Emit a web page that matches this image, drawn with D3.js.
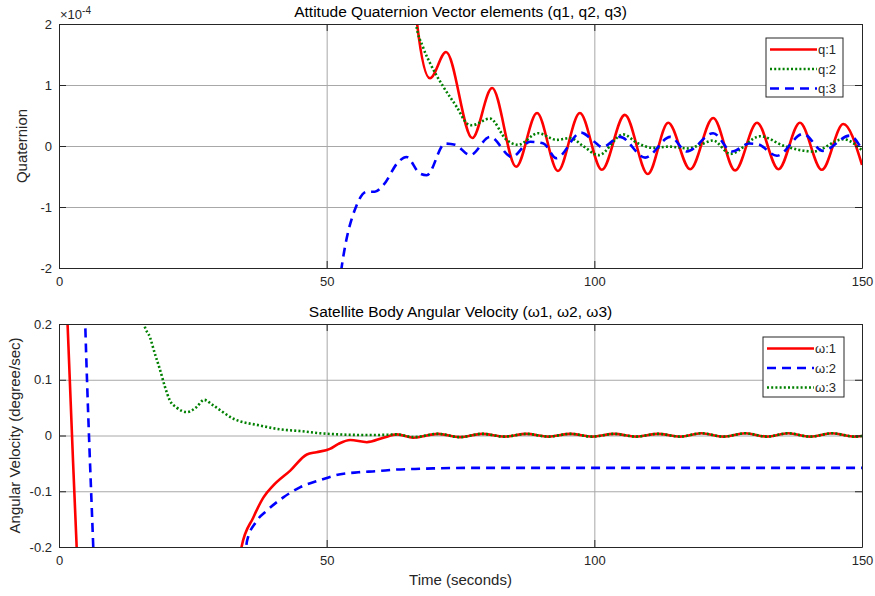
<!DOCTYPE html>
<html>
<head>
<meta charset="utf-8">
<script src="https://cdn.jsdelivr.net/npm/d3@7/dist/d3.min.js"></script>
<style>
body{margin:0;background:#fff}
svg{font-family:"Liberation Sans",Arial,sans-serif}
</style>
</head>
<body>
<svg id="svg" width="875" height="596"></svg>
<script>
// quaternion elements, in units of 1e-4, [time, value]
var q1=[[66.2,2.6],[66.9,2.0],[69.3,1.11],[72.3,1.54],[77.2,0.13],[80.9,0.95],[85.4,-0.34],[89.3,0.54],[93.2,-0.41],[97.3,0.54],
  [101.4,-0.39],[105.7,0.51],[110,-0.46],[113.8,0.38],[117.9,-0.38],[122.2,0.46],[126.3,-0.4],[130.4,0.38],[134.4,-0.38],
  [138.4,0.38],[142.5,-0.39],[146.5,0.36],[150,-0.31]];
var q2=[[66.0,2.5],[66.7,2.0],[68.0,1.62],[69.3,1.36],[71.8,0.97],[74.3,0.64],[76.2,0.37],[77.1,0.34],[80.5,0.45],[83.6,0.1],
  [85.8,0.02],[89.5,0.21],[93,0.1],[95.5,0.13],[97.9,0.0],[100.8,-0.15],[105.4,0.19],[108,0.05],[111,-0.03],[114,-0.01],
  [117.5,-0.04],[120,0.03],[122.2,0.09],[125.4,-0.13],[131,0.16],[135.5,0],[140.9,-0.09],[146.5,0.11],[150,-0.07]];
var q3=[[52.3,-2.3],[53,-1.87],[55.6,-0.97],[57.5,-0.75],[59,-0.75],[60.6,-0.64],[63.4,-0.26],[64.9,-0.18],[67.4,-0.45],
  [68.7,-0.48],[72.1,0.04],[74,0.02],[76.8,-0.15],[80.5,0.15],[84.6,-0.18],[88,0.07],[90.5,0.04],[92.9,-0.2],[97.5,0.22],
  [100,0.07],[101.5,-0.02],[104.8,0.15],[109.5,-0.19],[114.2,0.15],[117.3,-0.09],[122.2,0.21],[125.7,-0.09],[129,0.04],
  [130.5,0.03],[134.1,-0.16],[139,0.2],[142.7,-0.08],[147.7,0.17],[150,-0.06]];

// body angular velocity, degree/sec, [time, value]
var w1=[[1.2,0.32],[1.6,0.2],[3.3,-0.2],[3.7,-0.3],[33.5,-0.3],[34.1,-0.2],[36.3,-0.147],[38.2,-0.111],[40,-0.09],[43.2,-0.063],
  [46.3,-0.034],[48.1,-0.03],[50.6,-0.024],[52.2,-0.015],[54.4,-0.008],[57.5,-0.012],[60.6,-0.004],[63.1,0.002],[66.2,-0.004],
  [70.8,0.003],[74.9,-0.003],[79,0.003],[83.2,-0.002],[87.3,0.003],[91.4,-0.002],[95.5,0.003],[99.6,-0.002],[103.7,0.003],
  [107.8,-0.002],[111.9,0.003],[116,-0.002],[120,0.004],[124.1,-0.002],[128.2,0.004],[132.2,-0.002],[136.2,0.004],
  [140.3,-0.002],[144.4,0.004],[148.7,-0.002],[150,-0.001]];
var w2=[[4.6,0.3],[4.9,0.2],[6.4,-0.2],[6.8,-0.3],[34.3,-0.3],[35.1,-0.19],[36.8,-0.155],[38.8,-0.135],[41.9,-0.111],[45,-0.093],
  [48.8,-0.08],[52.3,-0.07],[55.9,-0.066],[59.3,-0.064],[63.1,-0.061],[66.5,-0.06],[69.9,-0.059],[76.8,-0.058],[95,-0.058],
  [115,-0.058],[135,-0.058],[150,-0.058]];
var w3=[[15.3,0.24],[15.9,0.2],[17,0.176],[17.9,0.147],[18.9,0.117],[19.8,0.087],[20.7,0.063],[22,0.05],[23.9,0.042],
  [25.7,0.051],[27.1,0.064],[28.8,0.054],[32.6,0.03],[37.5,0.018],[41.3,0.011],[45,0.008],[48.8,0.004],[52.2,0.002],
  [56,0.001],[60,0.001],[63.1,0.002],[66.2,-0.003],[70.8,0.003],[74.9,-0.003],[79,0.003],[83.2,-0.002],[87.3,0.003],
  [91.4,-0.002],[95.5,0.003],[99.6,-0.002],[103.7,0.003],[107.8,-0.002],[111.9,0.003],[116,-0.002],[120,0.004],
  [124.1,-0.002],[128.2,0.004],[132.2,-0.002],[136.2,0.004],[140.3,-0.002],[144.4,0.004],[148.7,-0.002],[150,-0.001]];

var xTicks=[0,50,100,150];
var qTicks=[-2,-1,0,1,2];
var wTicks=[-0.2,-0.1,0,0.1,0.2];
var qNames=["q:1","q:2","q:3"];
var wNames=["\u03c9:1","\u03c9:2","\u03c9:3"];

var svg=d3.select("#svg");
var styles={
  red:{color:"#ff0000",dash:null,w:2.6},
  green:{color:"#008000",dash:"2,2.2",w:2.6},
  blue:{color:"#0000ff",dash:"9,6",w:2.6}
};

function panel(p){
  var g=svg.append("g").attr("transform","translate("+p.left+","+p.top+")");
  var x=d3.scaleLinear().domain([0,150]).range([0,p.w]);
  var y=d3.scaleLinear().domain(p.ydom).range([p.h,0]);
  var fmt=function(d){return String(d)};

  // grid
  g.append("g").attr("transform","translate(0,"+p.h+")")
    .call(d3.axisBottom(x).tickValues(xTicks).tickSize(-p.h).tickFormat(""))
    .call(a=>a.select(".domain").remove())
    .selectAll("line").attr("stroke","#a8a8a8");
  g.append("g")
    .call(d3.axisLeft(y).tickValues(p.yticks).tickSize(-p.w).tickFormat(""))
    .call(a=>a.select(".domain").remove())
    .selectAll("line").attr("stroke","#a8a8a8");

  // lines
  var clipId="clip"+p.id;
  g.append("clipPath").attr("id",clipId).append("rect").attr("width",p.w).attr("height",p.h);
  var line=d3.line().x(d=>x(d[0])).y(d=>y(d[1])).curve(d3.curveMonotoneX);
  p.series.forEach(s=>{
    var st=styles[s.style];
    g.append("path").datum(s.data)
      .attr("clip-path","url(#"+clipId+")")
      .attr("d",line)
      .attr("fill","none")
      .attr("stroke",st.color)
      .attr("stroke-width",st.w)
      .attr("stroke-dasharray",st.dash);
  });

  // axes, ticks pointing inward
  g.append("g").attr("class","axis").attr("transform","translate(0,"+p.h+")")
    .call(d3.axisBottom(x).tickValues(xTicks).tickSizeInner(-7).tickSizeOuter(0).tickPadding(9).tickFormat(fmt));
  g.append("g").attr("class","axis")
    .call(d3.axisLeft(y).tickValues(p.yticks).tickSizeInner(-7).tickSizeOuter(0).tickPadding(7).tickFormat(fmt));
  g.append("g").attr("class","axis")
    .call(d3.axisTop(x).tickValues(xTicks).tickSizeInner(-7).tickSizeOuter(0).tickFormat(""));
  g.append("g").attr("class","axis").attr("transform","translate("+p.w+",0)")
    .call(d3.axisRight(y).tickValues(p.yticks).tickSizeInner(-7).tickSizeOuter(0).tickFormat(""));
  g.selectAll(".axis .domain").attr("stroke","#262626");
  g.selectAll(".axis line").attr("stroke","#262626");
  g.selectAll(".axis text").attr("fill","#262626").style("font-size","13px")
    .style("font-family","'Liberation Sans',Arial,sans-serif");

  // title
  g.append("text").attr("x",p.w/2).attr("y",-7).attr("text-anchor","middle")
    .style("font-size","15.5px").attr("fill","#000").text(p.title);
  // y label
  g.append("text").attr("transform","translate("+p.ylabX+","+(p.h/2)+") rotate(-90)")
    .attr("text-anchor","middle").style("font-size","15px").attr("fill","#262626").text(p.ylabel);

  // legend
  var lg=g.append("g").attr("transform","translate("+p.leg[0]+","+p.leg[1]+")");
  lg.append("rect").attr("width",p.leg[2]).attr("height",p.leg[3])
    .attr("fill","#fff").attr("stroke","#262626").attr("stroke-width",1);
  p.series.forEach((s,i)=>{
    var st=styles[s.style];
    var yy=11.5+i*19.5;
    lg.append("line").attr("x1",4).attr("x2",51).attr("y1",yy).attr("y2",yy)
      .attr("stroke",st.color).attr("stroke-width",st.w).attr("stroke-dasharray",st.dash);
    lg.append("text").attr("x",52).attr("y",yy).attr("dy","0.35em")
      .style("font-size","13px").attr("fill","#262626").text(s.name);
  });
  return g;
}

var topG=panel({id:1,left:59,top:24,w:803,h:244,ydom:[-2,2],yticks:qTicks,
  title:"Attitude Quaternion Vector elements (q1, q2, q3)",ylabel:"Quaternion",ylabX:-32,
  leg:[707,14,77,59],
  series:[{data:q1,style:"red",name:qNames[0]},{data:q2,style:"green",name:qNames[1]},{data:q3,style:"blue",name:qNames[2]}]});

var expo=topG.append("text").attr("x",1).attr("y",-5).style("font-size","13px").attr("fill","#262626");
expo.append("tspan").text("\u00d710");
expo.append("tspan").attr("dy",-5).style("font-size","10px").text("-4");

var botG=panel({id:2,left:59,top:324,w:803,h:223,ydom:[-0.2,0.2],yticks:wTicks,
  title:"Satellite Body Angular Velocity (\u03c91, \u03c92, \u03c93)",ylabel:"Angular Velocity (degree/sec)",ylabX:-39,
  leg:[704,13,81,60],
  series:[{data:w1,style:"red",name:wNames[0]},{data:w2,style:"blue",name:wNames[1]},{data:w3,style:"green",name:wNames[2]}]});

botG.append("text").attr("x",803/2).attr("y",223+38).attr("text-anchor","middle")
  .style("font-size","15px").attr("fill","#262626").text("Time (seconds)");
</script>
</body>
</html>
